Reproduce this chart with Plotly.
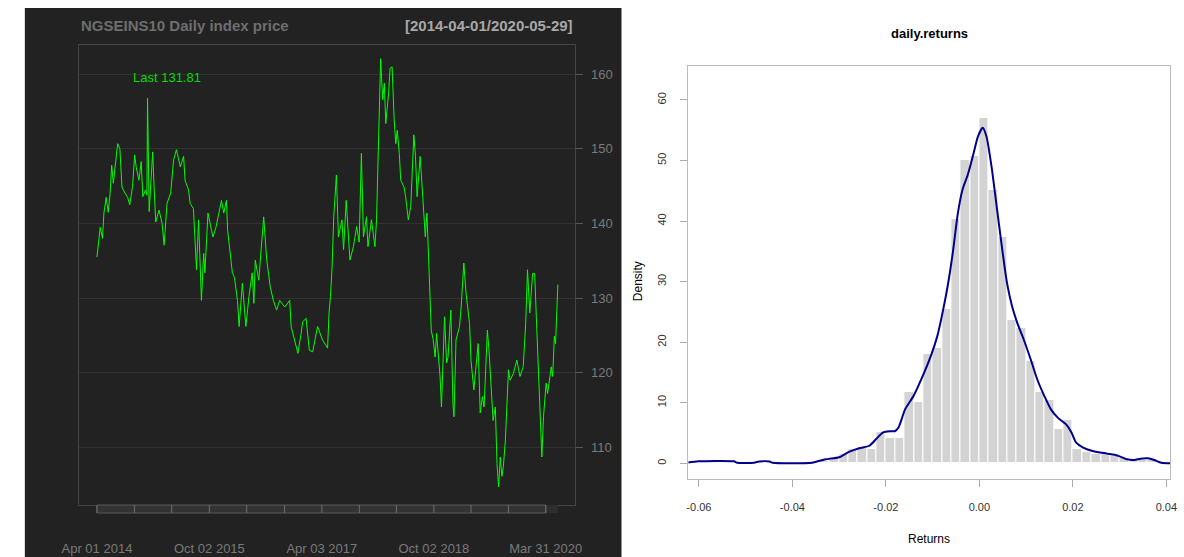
import plotly.graph_objects as go

W, H = 1184, 557
FONT = "Liberation Sans, Arial, sans-serif"

# ---------------- daily index price (left panel) ----------------
index_name = "NGSEINS10"

price_dates = [
    "2014-04-01", "2014-04-08", "2014-04-17", "2014-04-28", "2014-05-05", "2014-05-16", "2014-05-26", "2014-06-04", "2014-06-12", "2014-06-20",
    "2014-07-07", "2014-07-11", "2014-07-22", "2014-08-01", "2014-08-15", "2014-08-29", "2014-09-08", "2014-09-22", "2014-10-02", "2014-10-10",
    "2014-10-23", "2014-11-03", "2014-11-11", "2014-11-24", "2014-12-01", "2014-12-04", "2014-12-12", "2014-12-29", "2015-01-05", "2015-01-13",
    "2015-01-29", "2015-02-13", "2015-02-23", "2015-03-09", "2015-03-27", "2015-04-10", "2015-04-24", "2015-05-13", "2015-05-29", "2015-06-05",
    "2015-06-22", "2015-06-30", "2015-07-16", "2015-07-31", "2015-08-10", "2015-08-24", "2015-09-04", "2015-09-10", "2015-09-25", "2015-10-05",
    "2015-10-19", "2015-11-03", "2015-11-20", "2015-11-30", "2015-12-11", "2015-12-24", "2015-12-30", "2016-01-15", "2016-01-22", "2016-02-01",
    "2016-02-16", "2016-02-24", "2016-03-11", "2016-03-28", "2016-04-12", "2016-04-28", "2016-05-06", "2016-05-13", "2016-05-30", "2016-06-23",
    "2016-07-08", "2016-07-25", "2016-08-09", "2016-08-25", "2016-09-09", "2016-10-04", "2016-10-28", "2016-11-04", "2016-11-21", "2016-12-07",
    "2016-12-23", "2016-12-30", "2017-01-16", "2017-02-01", "2017-02-17", "2017-02-28", "2017-03-13", "2017-04-06", "2017-05-01", "2017-05-08",
    "2017-05-15", "2017-05-23", "2017-05-31", "2017-06-13", "2017-06-23", "2017-07-10", "2017-07-18", "2017-07-31", "2017-08-11", "2017-08-18",
    "2017-09-04", "2017-09-20", "2017-10-02", "2017-10-13", "2017-10-23", "2017-11-07", "2017-11-14", "2017-12-01", "2017-12-18", "2017-12-26",
    "2018-01-02", "2018-01-09", "2018-01-15", "2018-01-25", "2018-02-02", "2018-02-09", "2018-02-23", "2018-03-02", "2018-03-12", "2018-03-22",
    "2018-03-30", "2018-04-06", "2018-04-16", "2018-04-23", "2018-05-09", "2018-05-17", "2018-05-30", "2018-06-11", "2018-06-18", "2018-06-26",
    "2018-07-04", "2018-07-12", "2018-07-27", "2018-08-06", "2018-08-13", "2018-08-21", "2018-08-29", "2018-09-06", "2018-09-14", "2018-09-19",
    "2018-09-28", "2018-10-08", "2018-10-15", "2018-11-01", "2018-11-08", "2018-11-23", "2018-12-03", "2018-12-10", "2018-12-24", "2019-01-03",
    "2019-01-08", "2019-01-18", "2019-02-04", "2019-02-12", "2019-02-25", "2019-03-08", "2019-03-25", "2019-04-01", "2019-04-15", "2019-04-25",
    "2019-05-06", "2019-05-16", "2019-05-27", "2019-06-04", "2019-06-20", "2019-06-28", "2019-07-05", "2019-07-18", "2019-07-29", "2019-08-06",
    "2019-08-14", "2019-08-22", "2019-08-30", "2019-09-06", "2019-09-16", "2019-09-23", "2019-10-01", "2019-10-09", "2019-10-25", "2019-11-11",
    "2019-11-26", "2019-12-12", "2019-12-24", "2020-01-02", "2020-01-13", "2020-01-27", "2020-02-06", "2020-02-14", "2020-02-21", "2020-03-02",
    "2020-03-12", "2020-03-20", "2020-04-02", "2020-04-09", "2020-04-27", "2020-05-04", "2020-05-12", "2020-05-18", "2020-05-22", "2020-05-29",
]

price_values = [
    135.5, 137.0, 139.5, 138.0, 141.4, 143.5, 141.5, 144.0, 147.8, 145.4,
    150.3, 150.7, 150.0, 144.9, 144.1, 143.5, 142.5, 145.0, 149.2, 147.5,
    145.8, 148.3, 143.6, 144.5, 143.8, 156.8, 141.6, 149.6, 144.9, 140.2,
    141.8, 140.0, 137.1, 142.7, 144.1, 148.5, 149.9, 147.6, 149.0, 145.8,
    144.5, 142.7, 142.0, 133.8, 140.5, 129.7, 136.0, 133.4, 141.4, 140.2,
    138.2, 139.5, 141.8, 143.1, 141.4, 143.1, 139.1, 135.5, 133.4, 132.8,
    129.7, 126.2, 132.0, 126.2, 130.2, 133.4, 129.3, 135.1, 132.4, 140.9,
    135.1, 131.5, 129.7, 128.4, 129.7, 128.8, 129.7, 126.2, 124.4, 122.6,
    125.3, 126.8, 127.3, 123.0, 122.8, 124.5, 126.2, 124.4, 123.3, 128.0,
    130.2, 134.2, 140.9, 146.5, 138.2, 140.5, 136.5, 143.1, 137.8, 135.1,
    136.9, 139.6, 137.5, 149.4, 138.2, 140.9, 136.9, 140.5, 136.9, 140.5,
    148.1, 155.7, 162.1, 156.6, 158.8, 153.4, 157.5, 160.8, 161.0, 153.9,
    150.7, 152.5, 149.4, 145.8, 144.9, 143.6, 140.5, 142.3, 147.6, 151.9,
    149.0, 143.6, 149.0, 144.9, 141.4, 138.2, 141.4, 135.5, 131.5, 125.7,
    124.5, 122.1, 125.3, 119.5, 115.4, 127.5, 121.3, 122.1, 128.4, 115.8,
    114.1, 124.4, 126.2, 128.8, 134.7, 130.6, 126.6, 121.7, 117.7, 120.4,
    123.9, 114.6, 116.8, 115.4, 125.7, 123.0, 119.5, 113.6, 115.4, 107.8,
    104.7, 108.7, 106.1, 107.4, 111.0, 115.0, 120.4, 119.0, 119.9, 121.7,
    119.5, 120.8, 126.6, 133.8, 128.0, 133.3, 133.3, 127.5, 123.0, 116.8,
    108.7, 114.1, 118.6, 117.2, 120.8, 119.5, 124.9, 123.9, 127.0, 131.81,
]

# half-yearly axis ticks, every third one labelled
tick_dates = [
    "2014-04-01", "2014-10-01", "2015-04-01", "2015-10-02", "2016-04-01", "2016-10-03", "2017-04-03",
    "2017-10-03", "2018-04-02", "2018-10-02", "2019-04-01", "2019-10-01", "2020-03-31",
]
label_dates = ["2014-04-01", "2015-10-02", "2017-04-03", "2018-10-02", "2020-03-31"]
label_text = ["Apr 01 2014", "Oct 02 2015", "Apr 03 2017", "Oct 02 2018", "Mar 31 2020"]
price_ticks = [110, 120, 130, 140, 150, 160]

# ---------------- daily returns histogram (right panel) ----------------
bin_width = 0.002
bin_lo = [
    -0.034, -0.032, -0.030, -0.028, -0.026, -0.024, -0.022, -0.020, -0.018, -0.016,
    -0.014, -0.012, -0.010, -0.008, -0.006, -0.004, -0.002, 0.000, 0.002, 0.004,
    0.006, 0.008, 0.010, 0.012, 0.014, 0.016, 0.018, 0.020, 0.022, 0.024,
    0.026, 0.028, 0.030, 0.032, 0.034, 0.036, 0.038,
]
bin_density = [
    0.4, 1.0, 1.6, 2.3, 2.6, 2.4, 5.2, 4.1, 4.1, 11.8,
    10.1, 18.0, 19.0, 25.5, 40.4, 50.1, 50.8, 57.0, 45.2, 37.3,
    23.6, 22.4, 16.9, 11.8, 10.4, 5.6, 7.1, 2.3, 1.9, 1.6,
    1.5, 1.2, 0.8, 0.5, 0.6, 0.5, 0.2,
]

kde_x = [
    -0.0627, -0.0601, -0.0525, -0.0518, -0.0482, -0.0471, -0.0449, -0.0442, -0.0358, -0.0329,
    -0.0300, -0.0279, -0.0257, -0.0235, -0.0221, -0.0206, -0.0192, -0.0181, -0.0173, -0.0159,
    -0.0141, -0.0123, -0.0104, -0.0090, -0.0079, -0.0068, -0.0057, -0.0046, -0.0036, -0.0025,
    -0.0014, -0.0003, 0.0007, 0.0015, 0.0026, 0.0037, 0.0048, 0.0059, 0.0070, 0.0081,
    0.0095, 0.0110, 0.0124, 0.0139, 0.0153, 0.0168, 0.0186, 0.0197, 0.0207, 0.0222,
    0.0244, 0.0273, 0.0295, 0.0316, 0.0331, 0.0345, 0.0360, 0.0374, 0.0389, 0.0411,
]
kde_y = [
    0.10, 0.33, 0.33, 0.10, 0.10, 0.30, 0.30, 0.10, 0.10, 0.66,
    1.0, 1.9, 2.5, 2.9, 4.0, 5.1, 5.3, 5.3, 5.9, 8.9,
    11.1, 14.1, 17.7, 21.0, 24.8, 29.2, 34.7, 41.3, 45.2, 47.6,
    50.7, 54.0, 55.4, 54.0, 49.0, 42.4, 35.8, 29.8, 25.9, 23.2,
    20.4, 17.1, 13.8, 11.1, 8.9, 7.5, 6.4, 5.1, 3.4, 2.6,
    2.0, 1.6, 1.3, 0.66, 0.55, 0.77, 0.82, 0.55, 0.10, 0.0,
]
return_ticks = [-0.06, -0.04, -0.02, 0.00, 0.02, 0.04]
density_ticks = [0, 10, 20, 30, 40, 50, 60]


def px_x(p):
    return p / W


def px_y(p):
    return 1 - p / H


fig = go.Figure()

fig.add_trace(go.Scatter(
    x=price_dates, y=price_values, mode="lines",
    line=dict(color="#00ff00", width=1),
    xaxis="x", yaxis="y", hoverinfo="skip",
))

fig.add_trace(go.Bar(
    x=[lo + bin_width / 2 for lo in bin_lo], y=bin_density, width=bin_width,
    marker=dict(color="#d3d3d3", line=dict(color="#ffffff", width=1)),
    xaxis="x2", yaxis="y2", hoverinfo="skip",
))

fig.add_trace(go.Scatter(
    x=kde_x, y=kde_y, mode="lines",
    line=dict(color="#00008b", width=2, shape="spline", smoothing=0.6),
    xaxis="x2", yaxis="y2", hoverinfo="skip",
))

shapes = [
    # dark chart canvas
    dict(type="rect", xref="paper", yref="paper", x0=px_x(8), x1=px_x(617), y0=0, y1=px_y(8),
         fillcolor="#222222", line=dict(width=0), layer="below"),
    # date band under the price frame
    dict(type="rect", xref="x", yref="paper", x0=tick_dates[-1], x1=price_dates[-1],
         y0=px_y(513), y1=px_y(505), fillcolor="#2e2e2e", line=dict(width=0)),
    dict(type="rect", xref="x", yref="paper", x0=tick_dates[0], x1=tick_dates[-1],
         y0=px_y(513), y1=px_y(505), fillcolor="#333333", line=dict(color="#5a5a5a", width=1)),
]
for d in tick_dates:
    shapes.append(dict(type="line", xref="x", yref="paper", x0=d, x1=d,
                       y0=px_y(513), y1=px_y(505), line=dict(color="#6e6e6e", width=1)))

annotations = [
    dict(text=f"<b>{index_name} Daily index price</b>", x=px_x(63), y=px_y(25),
         xanchor="left", yanchor="middle", font=dict(size=15, color="#6e6e6e", family=FONT)),
    dict(text=f"<b>[{price_dates[0]}/{price_dates[-1]}]</b>", x=px_x(570), y=px_y(25),
         xanchor="right", yanchor="middle", font=dict(size=15, color="#a8a8a8", family=FONT)),
    dict(text=f"Last {price_values[-1]}", x=px_x(116), y=px_y(77.5),
         xanchor="left", yanchor="middle", font=dict(size=13, color="#00dd00", family=FONT)),
    dict(text="<b>daily.returns</b>", x=px_x(931), y=px_y(33),
         xanchor="center", yanchor="middle", font=dict(size=13, color="#000000", family=FONT)),
    dict(text="Returns", x=px_x(931), y=px_y(539),
         xanchor="center", yanchor="middle", font=dict(size=12, color="#000000", family=FONT)),
    dict(text="Density", x=px_x(634), y=px_y(281), textangle=-90,
         xanchor="center", yanchor="middle", font=dict(size=12, color="#000000", family=FONT)),
]
for a in annotations:
    a.update(xref="paper", yref="paper", showarrow=False)

fig.update_layout(
    width=W, height=H, autosize=False,
    margin=dict(l=0, r=0, t=0, b=0, pad=0),
    paper_bgcolor="#ffffff", plot_bgcolor="rgba(0,0,0,0)",
    showlegend=False, hovermode=False, bargap=0,
    font=dict(family=FONT),
    shapes=shapes, annotations=annotations,
    xaxis=dict(
        domain=[px_x(63), px_x(570)], anchor="y", type="date",
        range=["2014-01-02", "2020-08-23"],
        tickmode="array", tickvals=label_dates, ticktext=label_text,
        ticks="", showgrid=False, zeroline=False,
        showline=True, mirror=True, linecolor="#454545", linewidth=1,
        tickfont=dict(size=13, color="#7a7a7a"), ticklabelstandoff=31,
    ),
    yaxis=dict(
        domain=[px_y(505), px_y(45)], anchor="x", side="right",
        range=[102.27, 163.93], tickmode="array", tickvals=price_ticks,
        ticks="outside", ticklen=7, tickcolor="#555555",
        showgrid=True, gridcolor="#313131", gridwidth=1, zeroline=False,
        showline=True, mirror=True, linecolor="#454545", linewidth=1,
        tickfont=dict(size=13, color="#7a7a7a"), ticklabelstandoff=5,
    ),
    xaxis2=dict(
        domain=[px_x(685.3), px_x(1177)], anchor="y2",
        range=[-0.06224, 0.0408], tickmode="array", tickvals=return_ticks,
        ticktext=[f"{v:.2f}" for v in return_ticks],
        ticks="outside", ticklen=7, tickcolor="#aaaaaa",
        showgrid=False, zeroline=False,
        showline=True, mirror=True, linecolor="#bbbbbb", linewidth=1,
        tickfont=dict(size=11, color="#333333"), ticklabelstandoff=10,
    ),
    yaxis2=dict(
        domain=[px_y(479.3), px_y(66)], anchor="x2",
        range=[-2.64, 65.6], tickmode="array", tickvals=density_ticks,
        ticks="outside", ticklen=7, tickcolor="#aaaaaa", tickangle=-90,
        showgrid=False, zeroline=False,
        showline=True, mirror=True, linecolor="#bbbbbb", linewidth=1,
        tickfont=dict(size=11, color="#333333"), ticklabelstandoff=10,
    ),
)

fig.write_html("out.html")
